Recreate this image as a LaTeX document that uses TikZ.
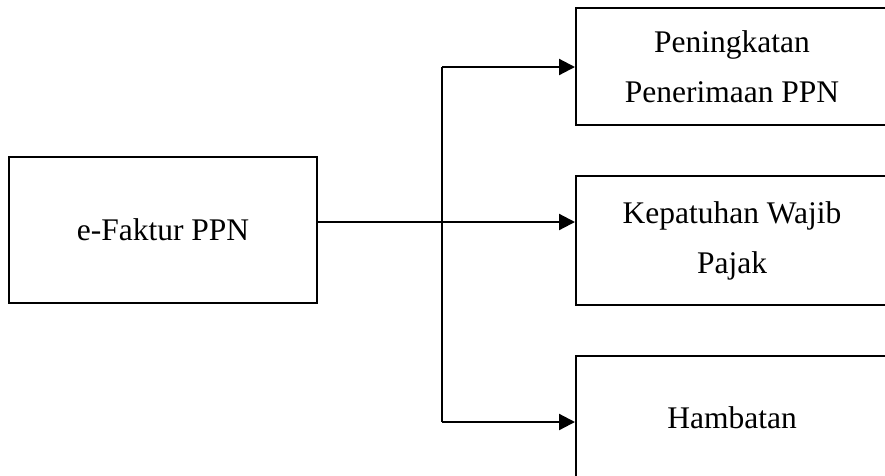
\documentclass[tikz,border=0pt]{standalone}
\usepackage{fontspec}
\setmainfont{Liberation Serif}
\usetikzlibrary{arrows.meta}
\begin{document}
\begin{tikzpicture}[x=1pt,y=-1pt,
  box/.style={draw,line width=2pt,align=center,inner sep=0pt,font=\fontsize{31.5}{50}\selectfont},
  arr/.style={line width=2.2pt,-{Triangle[length=16pt,width=16pt]}}]
\useasboundingbox (0,0) rectangle (885,475);
\clip (0,0) rectangle (885,475);

\node[box,minimum width=308pt,minimum height=146pt] (e) at (163,230) {e-Faktur PPN};
\node[box,minimum width=312pt,minimum height=117pt] (p) at (732,66.5) {Peningkatan\\Penerimaan PPN};
\node[box,minimum width=312pt,minimum height=129pt] (k) at (732,240.5) {Kepatuhan Wajib\\Pajak};
\node[box,minimum width=312pt,minimum height=124pt] (h) at (732,418) {Hambatan};

\coordinate (t) at (442,67);
\coordinate (m) at (442,222);
\coordinate (b) at (442,422);

\draw[line width=2pt] (t)--(b);
\draw[arr] (t)--(p.west |- t);
\draw[arr] (e.east |- m)--(k.west |- m);
\draw[arr] (b)--(h.west |- b);
\end{tikzpicture}
\end{document}
